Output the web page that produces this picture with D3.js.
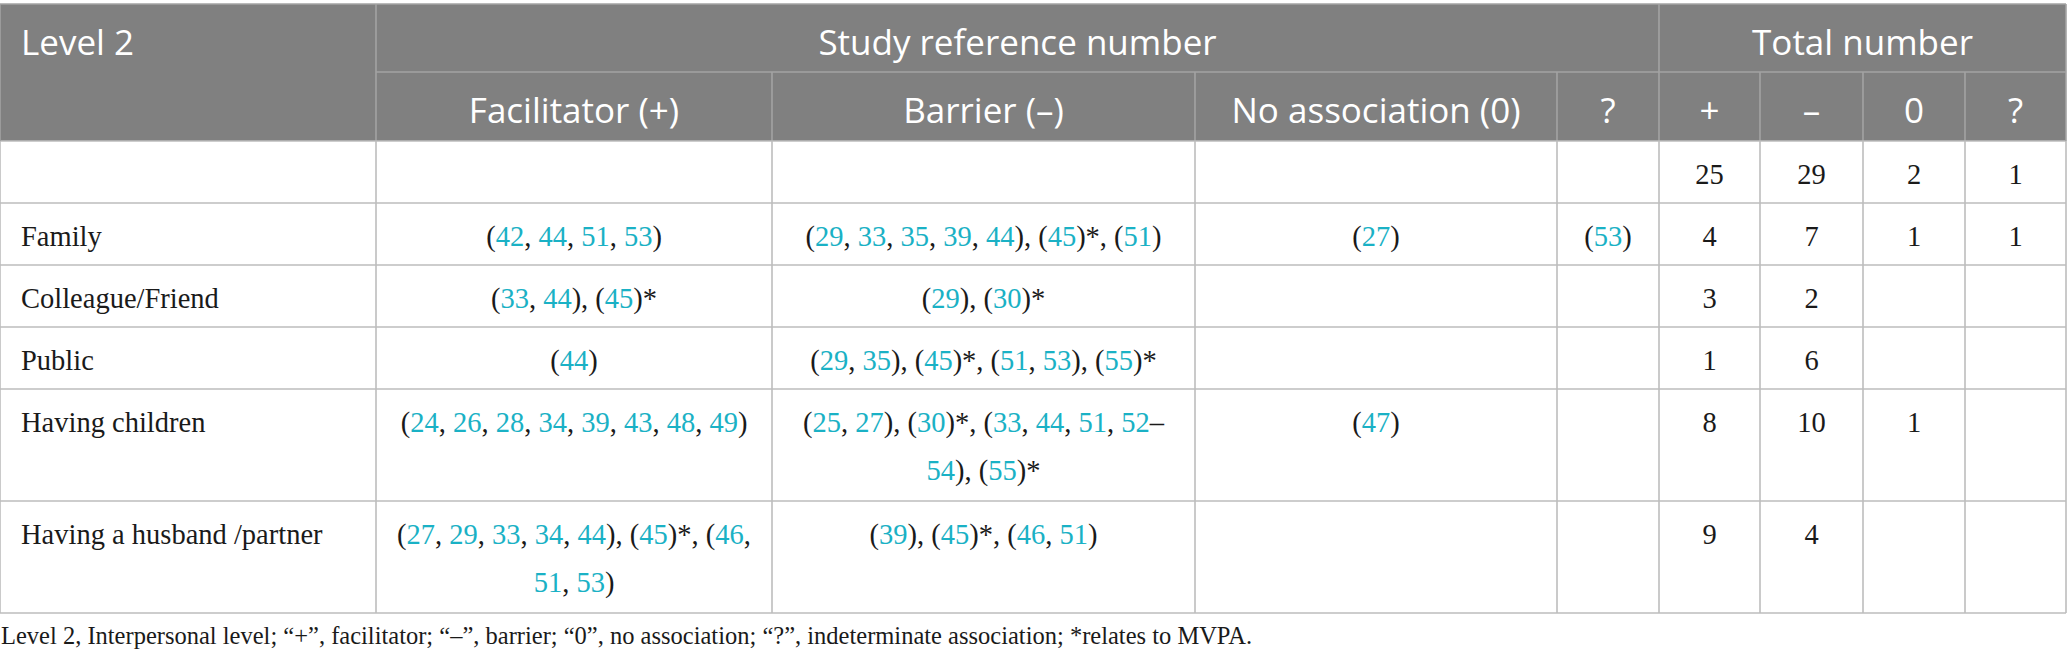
<!DOCTYPE html>
<html lang="en">
<head>
<meta charset="UTF-8">
<title>Level 2 – Interpersonal level</title>
<script src="https://d3js.org/d3.v7.min.js"></script>
<style>
  body { margin: 0; background: #ffffff; }
  .head { font-family: "Open Sans", sans-serif; fill: #ffffff; font-size: 35px; }
  .cell { font-family: "Liberation Serif", serif; fill: #1a1a1a; font-size: 28.5px; }
  .ref { fill: #1ab1c5; }
  .note { font-family: "Liberation Serif", serif; fill: #1a1a1a; font-size: 24.5px; }
</style>
</head>
<body>
<svg id="mainCanvas" width="2067" height="667" xmlns="http://www.w3.org/2000/svg"></svg>
<script>

// ---- table data ----
let rowLabels = ['', 'Family', 'Colleague/Friend', 'Public', 'Having children', 'Having a husband /partner'];
let facilitator = ['', '(42, 44, 51, 53)', '(33, 44), (45)*', '(44)', '(24, 26, 28, 34, 39, 43, 48, 49)', '(27, 29, 33, 34, 44), (45)*, (46,\n51, 53)'];
let barrier = ['', '(29, 33, 35, 39, 44), (45)*, (51)', '(29), (30)*', '(29, 35), (45)*, (51, 53), (55)*', '(25, 27), (30)*, (33, 44, 51, 52–\n54), (55)*', '(39), (45)*, (46, 51)'];
let noAssociation = ['', '(27)', '', '', '(47)', ''];
let indeterminate = ['', '(53)', '', '', '', ''];
let totalPlus = [25, 4, 3, 1, 8, 9];
let totalMinus = [29, 7, 2, 6, 10, 4];
let totalZero = [2, 1, null, null, 1, null];
let totalUnknown = [1, 1, null, null, null, null];

let groupHeaders = ['Level 2', 'Study reference number', 'Total number'];
let subHeaders = ['Facilitator (+)', 'Barrier (–)', 'No association (0)', '?', '+', '–', '0', '?'];
let footnote = 'Level 2, Interpersonal level; “+”, facilitator; “–”, barrier; “0”, no association; “?”, indeterminate association; *relates to MVPA.';

// ---- layout ----
let colWidths = [376, 396, 423, 362, 102, 101, 103, 102, 101];
let colEdges = [0].concat(Array.from(d3.cumsum(colWidths)));
let tableTop = 4, head1 = 68, head2 = 69;
let rowBase = 62, rowExtra = 50, lineStep = 48, baseDrop = 43;
let headFill = '#808080', headLine = '#a3a3a3', gridLine = '#bdbdbd';

let svg = d3.select('#mainCanvas');

let columns = [rowLabels, facilitator, barrier, noAssociation, indeterminate,
               totalPlus, totalMinus, totalZero, totalUnknown];

let lineCount = rowLabels.map(function(d, i) {
  return d3.max(columns, function(col) {
    return col[i] == null ? 1 : String(col[i]).split('\n').length;
  });
});
let bodyTop = tableTop + head1 + head2;
let rowEdges = [bodyTop];
lineCount.forEach(function(n) {
  rowEdges.push(rowEdges[rowEdges.length - 1] + rowBase + rowExtra * (n - 1));
});
let tableBottom = rowEdges[rowEdges.length - 1];
let right = colEdges[colEdges.length - 1];

// header background
svg.append('rect')
  .attr('x', 0).attr('y', tableTop)
  .attr('width', right).attr('height', head1 + head2)
  .style('fill', headFill);

let addLine = function(x1, x2, y1, y2, colour) {
  svg.append('line')
    .attr('x1', x1).attr('x2', x2)
    .attr('y1', y1).attr('y2', y2)
    .style('stroke', colour)
    .style('stroke-width', 1.6);
};

// header grid
addLine(colEdges[1], right, tableTop + head1, tableTop + head1, headLine);
addLine(colEdges[1], colEdges[1], tableTop, tableTop + head1 + head2, headLine);
addLine(colEdges[5], colEdges[5], tableTop, tableTop + head1 + head2, headLine);
for (let c = 2; c < colEdges.length - 1; c++) {
  if (c !== 5) addLine(colEdges[c], colEdges[c], tableTop + head1, tableTop + head1 + head2, headLine);
}
addLine(0, right, tableTop, tableTop, headLine);

// body grid
rowEdges.forEach(function(y) { addLine(0, right, y, y, gridLine); });
colEdges.forEach(function(x) { addLine(x, x, bodyTop, tableBottom, gridLine); });
addLine(0, 0, tableTop, bodyTop, headLine);
addLine(right, right, tableTop, bodyTop, headLine);

// header text
let groupSpans = [[0, 1], [1, 5], [5, 9]];
svg.selectAll('.groupHead')
  .data(groupHeaders)
  .enter().append('text')
  .attr('class', 'head groupHead')
  .attr('x', function(d, i) {
    return i === 0 ? 21 : (colEdges[groupSpans[i][0]] + colEdges[groupSpans[i][1]]) / 2;
  })
  .attr('y', tableTop + 51)
  .attr('text-anchor', function(d, i) { return i === 0 ? 'start' : 'middle'; })
  .text(function(d) { return d; });

svg.selectAll('.subHead')
  .data(subHeaders)
  .enter().append('text')
  .attr('class', 'head subHead')
  .attr('x', function(d, i) { return (colEdges[i + 1] + colEdges[i + 2]) / 2; })
  .attr('y', tableTop + head1 + 51)
  .attr('text-anchor', 'middle')
  .text(function(d) { return d; });

// body cells
let writeCell = function(value, col, row) {
  if (value == null || value === '') return;
  let lines = String(value).split('\n');
  let isRef = col >= 1 && col <= 4;
  let t = svg.append('text')
    .attr('class', 'cell')
    .attr('text-anchor', col === 0 ? 'start' : 'middle');
  let x = col === 0 ? 21 : (colEdges[col] + colEdges[col + 1]) / 2;
  lines.forEach(function(line, k) {
    let y = rowEdges[row] + baseDrop + k * lineStep;
    let holder = t.append('tspan').attr('x', x).attr('y', y);
    if (!isRef) {
      holder.text(line);
      return;
    }
    line.split(/(\d+)/).forEach(function(part) {
      if (part === '') return;
      holder.append('tspan')
        .attr('class', /^\d+$/.test(part) ? 'ref' : null)
        .text(part);
    });
  });
};

columns.forEach(function(col, c) {
  col.forEach(function(v, r) { writeCell(v, c, r); });
});

// footnote
svg.append('text')
  .attr('class', 'note')
  .attr('x', 1)
  .attr('y', tableBottom + 31)
  .text(footnote);

</script>
</body>
</html>
